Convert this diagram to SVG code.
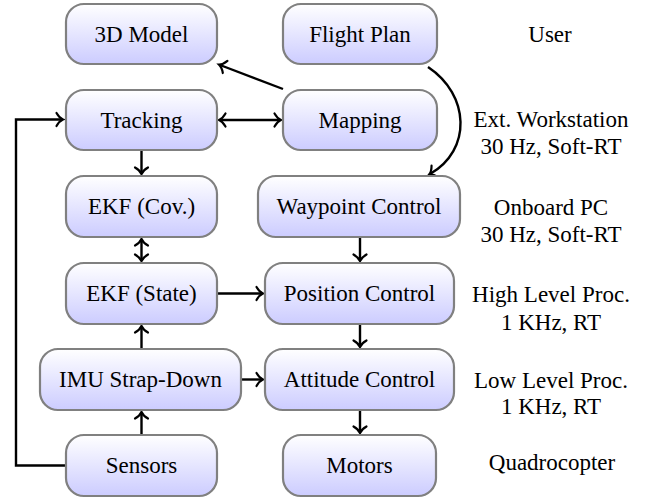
<svg xmlns="http://www.w3.org/2000/svg" width="659" height="499" viewBox="0 0 659 499">
<defs>
<linearGradient id="g" x1="0" y1="0" x2="0" y2="1">
<stop offset="0" stop-color="#ffffff"/>
<stop offset="1" stop-color="#ccccff"/>
</linearGradient>
<marker id="a" markerUnits="userSpaceOnUse" markerWidth="16" markerHeight="16" viewBox="-8 -8 16 16" refX="0" refY="0" orient="auto-start-reverse" overflow="visible">
<path d="M -5.5 -6.5 C -3.5 -3 -0.5 -0.6 1 0 C -0.5 0.6 -3.5 3 -5.5 6.5" fill="none" stroke="#000" stroke-width="2.2" stroke-linecap="round"/>
</marker>
<style>
.n rect{fill:url(#g);stroke:#808080;stroke-width:2.2}
text{font-family:'Liberation Serif','Times New Roman',serif;font-size:23px;fill:#000;text-anchor:middle}
.c path{fill:none;stroke:#000;stroke-width:2.4}
.e{marker-end:url(#a)}
.b{marker-start:url(#a);marker-end:url(#a)}
</style>
</defs>
<g id="connectors" class="c">
<path class="e" d="M 283 89 L 220 65"/>
<path class="b" d="M 220 120 L 280 120"/>
<path class="e" d="M 428 67 C 470 95 472 150 430 174"/>
<path class="e" d="M 141.5 151 L 141.5 173"/>
<path class="b" d="M 141.5 240 L 141.5 260"/>
<path class="e" d="M 218 293.5 L 262 293.5"/>
<path class="e" d="M 141.5 348 L 141.5 327"/>
<path class="e" d="M 141.5 434 L 141.5 413"/>
<path class="e" d="M 242 379.5 L 262 379.5"/>
<path class="e" d="M 360 238 L 360 260"/>
<path class="e" d="M 360 325 L 360 346"/>
<path class="e" d="M 360 411 L 360 432"/>
<path class="e" d="M 66 465.5 L 16 465.5 L 16 119.5 L 62 119.5"/>
</g>
<g id="model3d" class="n"><rect x="66" y="4" width="151" height="60" rx="18"/><text x="141.5" y="42">3D Model</text></g>
<g id="flightplan" class="n"><rect x="283" y="4" width="154" height="60" rx="18"/><text x="360" y="42">Flight Plan</text></g>
<g id="tracking" class="n"><rect x="66" y="90" width="151" height="60" rx="18"/><text x="141.5" y="128">Tracking</text></g>
<g id="mapping" class="n"><rect x="283" y="90" width="154" height="60" rx="18"/><text x="360" y="128">Mapping</text></g>
<g id="ekfcov" class="n"><rect x="66" y="176" width="151" height="61" rx="18"/><text x="141.5" y="214">EKF (Cov.)</text></g>
<g id="waypoint" class="n"><rect x="258" y="176" width="202" height="61" rx="18"/><text x="359" y="214">Waypoint Control</text></g>
<g id="ekfstate" class="n"><rect x="66" y="263" width="151" height="61" rx="18"/><text x="141.5" y="301">EKF (State)</text></g>
<g id="position" class="n"><rect x="265" y="263" width="189" height="61" rx="18"/><text x="359.5" y="301">Position Control</text></g>
<g id="imu" class="n"><rect x="40" y="349" width="201" height="61" rx="18"/><text x="140.5" y="387">IMU Strap-Down</text></g>
<g id="attitude" class="n"><rect x="265" y="349" width="189" height="61" rx="18"/><text x="359.5" y="387">Attitude Control</text></g>
<g id="sensors" class="n"><rect x="66" y="435" width="151" height="61" rx="18"/><text x="141.5" y="473">Sensors</text></g>
<g id="motors" class="n"><rect x="283" y="435" width="153" height="61" rx="18"/><text x="359.5" y="473">Motors</text></g>
<g id="labels">
<text x="550" y="42">User</text>
<text x="551" y="127">Ext. Workstation</text>
<text x="551" y="154">30 Hz, Soft-RT</text>
<text x="551" y="215">Onboard PC</text>
<text x="551" y="242">30 Hz, Soft-RT</text>
<text x="551" y="302">High Level Proc.</text>
<text x="551" y="330">1 KHz, RT</text>
<text x="551" y="388">Low Level Proc.</text>
<text x="551" y="414">1 KHz, RT</text>
<text x="552" y="470">Quadrocopter</text>
</g>
</svg>
